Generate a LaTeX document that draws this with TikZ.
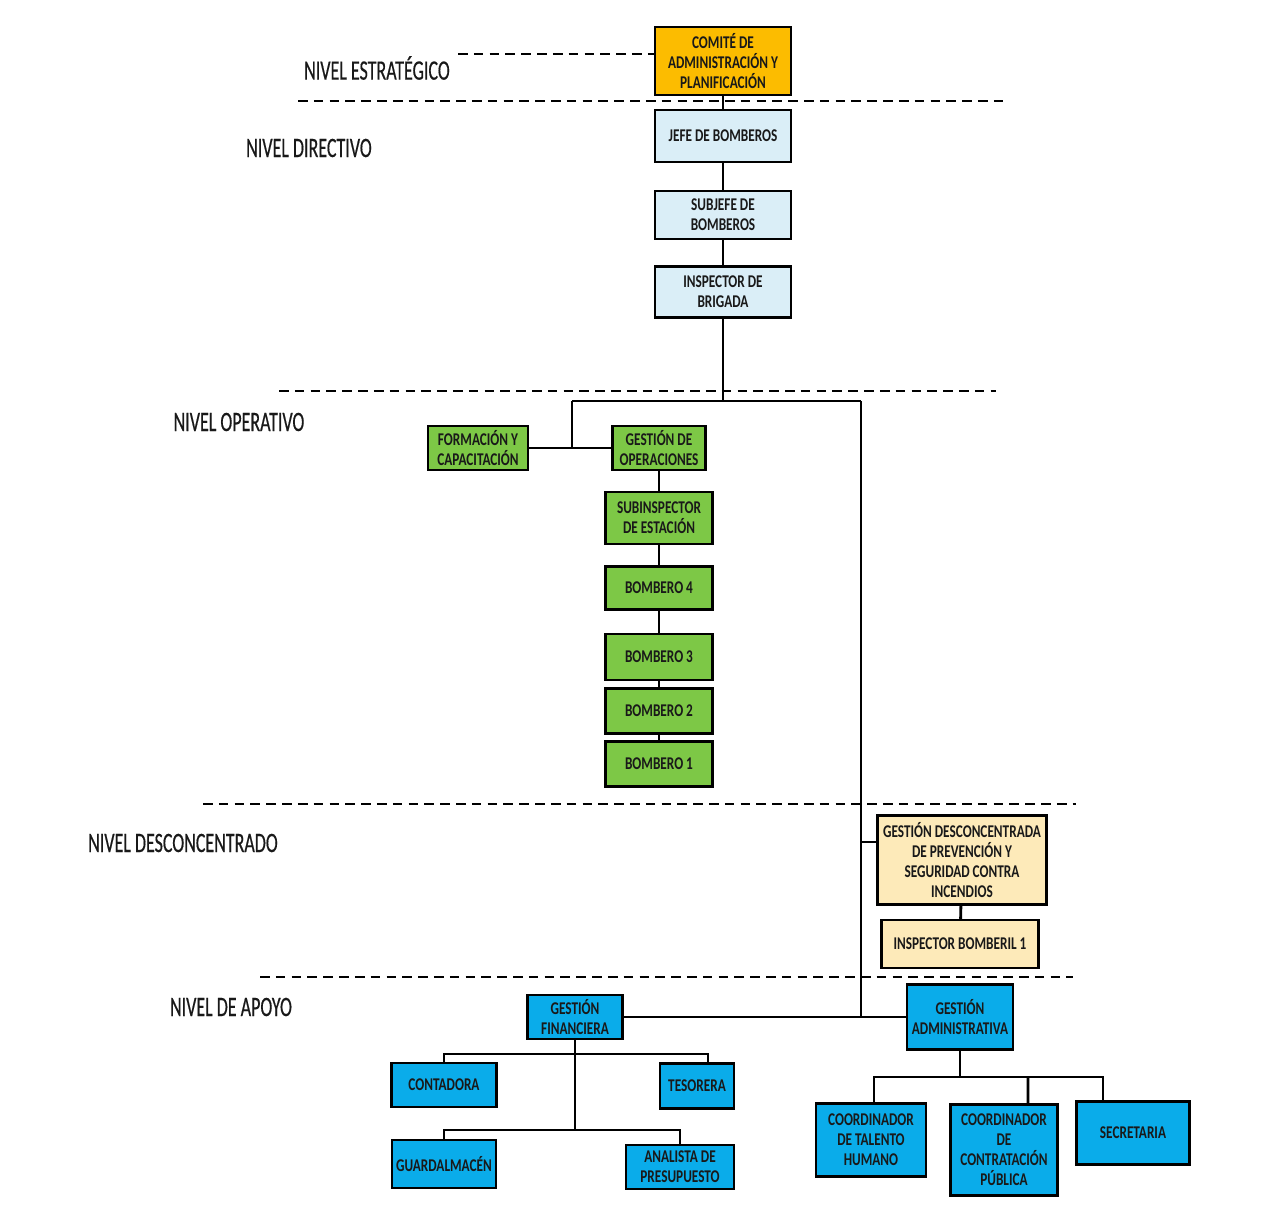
\documentclass[tikz,border=0pt]{standalone}
\usepackage{fontspec}
\usepackage{tikz}
\usetikzlibrary{positioning,calc}
\newfontfamily\orgfont{Carlito}[FakeStretch=0.74]
\newfontfamily\nivelfont{Carlito}[FakeStretch=0.64, FakeBold=0.4]
\newcommand{\pxu}{0.02cm}
\definecolor{orange2}{RGB}{252,188,0}
\definecolor{lightblue}{RGB}{218,238,247}
\definecolor{green2}{RGB}{125,200,70}
\definecolor{lightyellow}{RGB}{253,234,185}
\definecolor{blue2}{RGB}{10,172,234}
\tikzset{
  orgbox/.style={draw=black, line width=1.4pt, align=center, inner sep=1pt,
    font=\orgfont\bfseries\fontsize{10.2}{11.4}\selectfont, text=black!90},
  comitebox/.style={orgbox, fill=orange2, minimum width=136*\pxu, minimum height=68*\pxu},
  directbox/.style={orgbox, fill=lightblue, minimum width=136*\pxu},
  operbox/.style={orgbox, fill=green2, minimum width=107*\pxu, minimum height=44*\pxu},
  descbox/.style={orgbox, fill=lightyellow},
  apoyobox/.style={orgbox, fill=blue2},
  nivel/.style={font=\nivelfont\fontsize{16}{18}\selectfont, text=black!90},
  sep/.style={line width=1.3pt, dash pattern=on 5.5pt off 3.5pt},
  link/.style={line width=1.6pt}
}
\begin{document}
\begin{tikzpicture}[x=0.02cm, y=-0.02cm]
\useasboundingbox[fill=white] (0,0) rectangle (1285,1224);

% niveles
\node[nivel] (nestr) at (377,68) {NIVEL ESTRATÉGICO};
\node[nivel] (ndir) at (309,148) {NIVEL DIRECTIVO};
\node[nivel] (nop) at (239,422) {NIVEL OPERATIVO};
\node[nivel] (ndesc) at (183,843) {NIVEL DESCONCENTRADO};
\node[nivel] (napo) at (231,1007) {NIVEL DE APOYO};

% separadores
\coordinate (s0a) at (458,54);
\coordinate (s1a) at (298,101); \coordinate (s1b) at (1003,101);
\coordinate (s2a) at (279,391); \coordinate (s2b) at (996,391);
\coordinate (s3a) at (203,804); \coordinate (s3b) at (1076,804);
\coordinate (s4a) at (260,977); \coordinate (s4b) at (1073,977);

% nivel estrategico y directivo
\node[comitebox] (comite) at (723,61) {COMITÉ DE\\ADMINISTRACIÓN Y\\PLANIFICACIÓN};
\node[directbox, minimum height=52*\pxu] (jefe) at (723,136) {JEFE DE BOMBEROS};
\node[directbox, minimum height=48*\pxu] (subjefe) at (723,215) {SUBJEFE DE\\BOMBEROS};
\node[directbox, minimum height=51*\pxu] (insp) at (723,292) {INSPECTOR DE\\BRIGADA};

% nivel operativo
\node[operbox, minimum width=100*\pxu] (formacion) at (478,448) {FORMACIÓN Y\\CAPACITACIÓN};
\node[operbox, minimum width=93*\pxu] (gop) at (659,448) {GESTIÓN DE\\OPERACIONES};
\node[operbox, minimum height=52*\pxu] (subinsp) at (659,518) {SUBINSPECTOR\\DE ESTACIÓN};
\node[operbox, minimum height=43*\pxu] (b4) at (659,588) {BOMBERO 4};
\node[operbox, minimum height=46*\pxu] (b3) at (659,657) {BOMBERO 3};
\node[operbox, minimum height=45*\pxu] (b2) at (659,711) {BOMBERO 2};
\node[operbox, minimum height=45*\pxu] (b1) at (659,764) {BOMBERO 1};

% nivel desconcentrado
\node[descbox, minimum width=169*\pxu, minimum height=89*\pxu] (desc) at (962,860)
  {GESTIÓN DESCONCENTRADA\\DE PREVENCIÓN Y\\SEGURIDAD CONTRA\\INCENDIOS};
\node[descbox, minimum width=157*\pxu, minimum height=48*\pxu] (bomberil) at (960,944) {INSPECTOR BOMBERIL 1};

% nivel de apoyo
\node[apoyobox, minimum width=95*\pxu, minimum height=44*\pxu] (gf) at (575,1017) {GESTIÓN\\FINANCIERA};
\node[apoyobox, minimum width=106*\pxu, minimum height=65*\pxu] (ga) at (960,1017) {GESTIÓN\\ADMINISTRATIVA};
\node[apoyobox, minimum width=105*\pxu, minimum height=44*\pxu] (contadora) at (444,1085) {CONTADORA};
\node[apoyobox, minimum width=74*\pxu, minimum height=45*\pxu] (tesorera) at (697,1086) {TESORERA};
\node[apoyobox, minimum width=104*\pxu, minimum height=48*\pxu] (guard) at (444,1164) {GUARDALMACÉN};
\node[apoyobox, minimum width=108*\pxu, minimum height=44*\pxu] (analista) at (680,1167) {ANALISTA DE\\PRESUPUESTO};
\node[apoyobox, minimum width=110*\pxu, minimum height=73*\pxu] (talento) at (871,1140) {COORDINADOR\\DE TALENTO\\HUMANO};
\node[apoyobox, minimum width=107*\pxu, minimum height=91*\pxu] (contrat) at (1004,1150) {COORDINADOR\\DE\\CONTRATACIÓN\\PÚBLICA};
\node[apoyobox, minimum width=113*\pxu, minimum height=63*\pxu] (secret) at (1133,1133) {SECRETARIA};

\draw[sep] (s0a) -- (comite.west |- s0a);
\draw[sep] (s1a) -- (s1b);
\draw[sep] (s2a) -- (s2b);
\draw[sep] (s3a) -- (s3b);
\draw[sep] (s4a) -- (s4b);

% conectores
\coordinate (busop) at (723,401);
\coordinate (busL) at (572,401);
\coordinate (busR) at (861,401);
\coordinate (jdesc) at (861,842);
\coordinate (fbus1) at (575,1054);
\coordinate (fbus2) at (575,1130);
\coordinate (abus) at (960,1077);

\draw[link] (comite) -- (jefe);
\draw[link] (jefe) -- (subjefe);
\draw[link] (subjefe) -- (insp);
\draw[link] (insp) -- (busop);
\draw[link] (busL) -- (busR);
\draw[link] (busL) -- (busL |- formacion);
\draw[link] (formacion) -- (gop);
\draw[link] (gop) -- (subinsp);
\draw[link] (subinsp) -- (b4);
\draw[link] (b4) -- (b3);
\draw[link] (b3) -- (b2);
\draw[link] (b2) -- (b1);
\draw[link] (busR) -- (busR |- ga);
\draw[link] (jdesc) -- (jdesc -| desc.west);
\draw[link] (desc) -- (bomberil);
\draw[link] (gf) -- (ga);
\draw[link] (gf) -- (fbus2);
\draw[link] (contadora.north) |- (fbus1) -| ([xshift=0.22cm]tesorera.north);
\draw[link] (guard.north) |- (fbus2) -| (analista.north);
\draw[link] (ga) -- (abus);
\draw[link] ([xshift=0.06cm]talento.north) |- (abus) -| ([xshift=-0.6cm]secret.north);
\draw[link] (abus -| 1028,0) -- ([xshift=0.48cm]contrat.north);
\end{tikzpicture}
\end{document}
